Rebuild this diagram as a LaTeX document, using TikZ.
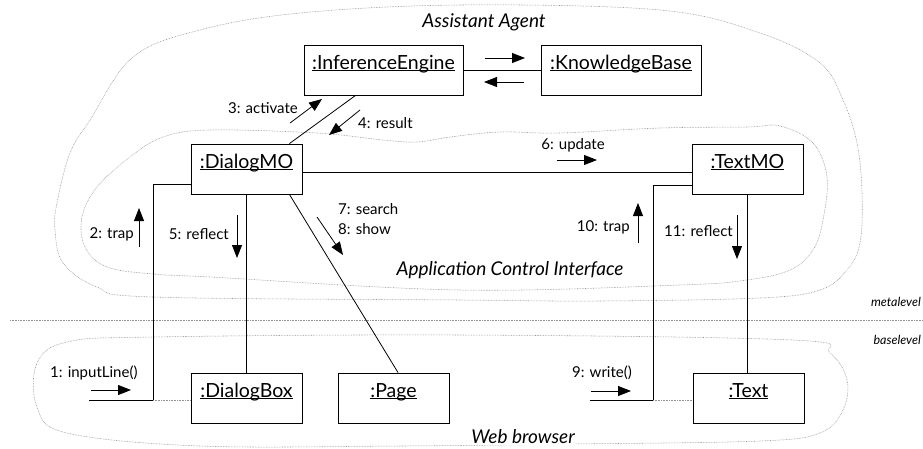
\documentclass[tikz,border=0pt]{standalone}
\usepackage{fontspec}
\setmainfont{Lato}
\usetikzlibrary{arrows.meta,calc}
\newcommand\myul[1]{\underline{\smash{#1}}}
\begin{document}
\begin{tikzpicture}[x=1pt,y=-1pt,
  obj/.style={draw,line width=0.9pt,minimum width=111pt,minimum height=50pt,inner sep=0pt,font=\fontsize{19.5}{22}\selectfont},
  wideobj/.style={obj,minimum width=159pt},
  link/.style={line width=0.8pt},
  msg/.style={line width=0.8pt,-{Triangle[length=13pt,width=10pt]}},
  lbl/.style={font=\fontsize{15}{17}\selectfont,inner sep=0pt},
  region/.style={gray!85,line width=0.55pt,dash pattern=on 0.7pt off 0.9pt},
  rlbl/.style={font=\fontsize{19}{22}\selectfont\itshape,inner sep=1pt},
  lvl/.style={font=\fontsize{12.5}{14}\selectfont\itshape,inner sep=0pt}]
\useasboundingbox (0,0) rectangle (923,448);
% regions
\draw[region] plot[smooth cycle,tension=0.6] coordinates {(300,13) (460,5) (660,10) (760,33) (820,63) (843,100) (857,143) (862,193) (860,243) (847,270) (820,290) (760,298) (600,301) (460,300) (153,297) (97,287) (63,263) (55,230) (57,203) (70,153) (90,120) (133,57) (200,30)};
\draw[region] plot[smooth cycle,tension=0.6] coordinates {(163,137) (210,130) (317,133) (383,140) (417,142) (450,137) (500,132) (560,133) (660,128) (747,127) (780,126) (813,143) (827,177) (823,220) (813,250) (790,270) (747,280) (680,285) (460,290) (210,277) (153,274) (107,267) (85,247) (82,217) (97,187) (130,157)};
\draw[region] plot[smooth cycle,tension=0.6] coordinates {(153,337) (460,335) (793,340) (830,353) (847,380) (843,410) (820,433) (760,441) (573,444) (400,446) (200,446) (67,433) (37,407) (37,363) (67,342)};
\coordinate (lvlL) at (10,320);
\coordinate (lvlR) at (923,320);
\draw[region] (lvlL) -- (lvlR);
% objects
\node[wideobj] (ie) at (383.5,70) {\myul{:InferenceEngine}};
\node[wideobj,minimum width=160pt] (kb) at (621,70) {\myul{:KnowledgeBase}};
\node[obj] (dmo) at (246.5,169) {\myul{:DialogMO}};
\node[obj] (tmo) at (747.5,169) {\myul{:TextMO}};
\node[obj] (dbox) at (246.5,398) {\myul{:DialogBox}};
\node[obj] (page) at (393.5,398) {\myul{:Page}};
\node[obj] (text) at (748.5,398) {\myul{:Text}};
% links
\draw[link] (ie.east) -- (kb.west);
\draw[link] ([xshift=-13pt]dmo.north east) -- ([xshift=-28pt]ie.south);
\draw[link] ([yshift=-3pt]dmo.east) -- ([yshift=-3pt]tmo.west);
\draw[link] (dmo.south) -- (dmo.south |- dbox.north);
\draw[link] ([xshift=-13pt]dmo.south east) -- ([xshift=4.5pt]page.north);
\draw[link] (tmo.south) -- (tmo.south |- text.north);
\coordinate (c1) at (153,400);
\coordinate (in1) at (89,400);
\coordinate (c2) at (653,400);
\coordinate (in2) at (590,400);
\draw[link] ([yshift=-15pt]dmo.west) -| (c1) -- (in1);
\draw[link] ([yshift=-16pt]tmo.west) -| (c2) -- (in2);
\draw[region] (c1) -- (c1 -| dbox.west);
\draw[region] (c2) -- (c2 -| text.west);
% messages
\coordinate (m1a) at (485,58); \coordinate (m1b) at (525,58);
\coordinate (m2a) at (524,82); \coordinate (m2b) at (484,82);
\draw[msg] (m1a) -- (m1b);
\draw[msg] (m2a) -- (m2b);
\coordinate (m3a) at (290,123); \coordinate (m3b) at (322,99);
\draw[msg] (m3a) -- (m3b);
\node[lbl,anchor=east] (l3) at (298,108) {3: activate};
\coordinate (m4a) at (360,110); \coordinate (m4b) at (329,135);
\draw[msg] (m4a) -- (m4b);
\node[lbl,anchor=west] (l4) at (358,123) {4: result};
\coordinate (m6a) at (557,160); \coordinate (m6b) at (597,160);
\draw[msg] (m6a) -- (m6b);
\node[lbl] (l6) at (573,145) {6: update};
\coordinate (m2ta) at (139,247); \coordinate (m2tb) at (139,208);
\draw[msg] (m2ta) -- (m2tb);
\node[lbl,anchor=east] (l2) at (134,234) {2: trap};
\coordinate (m5a) at (237,215); \coordinate (m5b) at (237,258);
\draw[msg] (m5a) -- (m5b);
\node[lbl,anchor=east] (l5) at (229,234) {5: reflect};
\coordinate (m7a) at (317,217); \coordinate (m7b) at (343,255);
\draw[msg] (m7a) -- (m7b);
\node[lbl,anchor=west] (l7) at (338,209) {7: search};
\node[lbl,anchor=west] (l8) at (338,229) {8: show};
\coordinate (m10a) at (638,243); \coordinate (m10b) at (638,203);
\draw[msg] (m10a) -- (m10b);
\node[lbl,anchor=east] (l10) at (630,227) {10: trap};
\coordinate (m11a) at (737,215); \coordinate (m11b) at (737,259);
\draw[msg] (m11a) -- (m11b);
\node[lbl,anchor=east] (l11) at (733,231) {11: reflect};
\coordinate (m1ia) at (91,390); \coordinate (m1ib) at (131,390);
\draw[msg] (m1ia) -- (m1ib);
\node[lbl,anchor=west] (l1) at (50,373) {1: inputLine()};
\coordinate (m9a) at (591,391); \coordinate (m9b) at (631,391);
\draw[msg] (m9a) -- (m9b);
\node[lbl] (l9) at (602,373) {9: write()};
% region labels
\node[rlbl] (ra) at (484,22) {Assistant Agent};
\node[rlbl] (rb) at (510,270) {Application Control Interface};
\node[rlbl,fill=white] (rc) at (523,437) {Web browser};
\node[lvl,anchor=east] (meta) at (921,302) {metalevel};
\node[lvl,anchor=east] (base) at (921,340) {baselevel};
\end{tikzpicture}
\end{document}
